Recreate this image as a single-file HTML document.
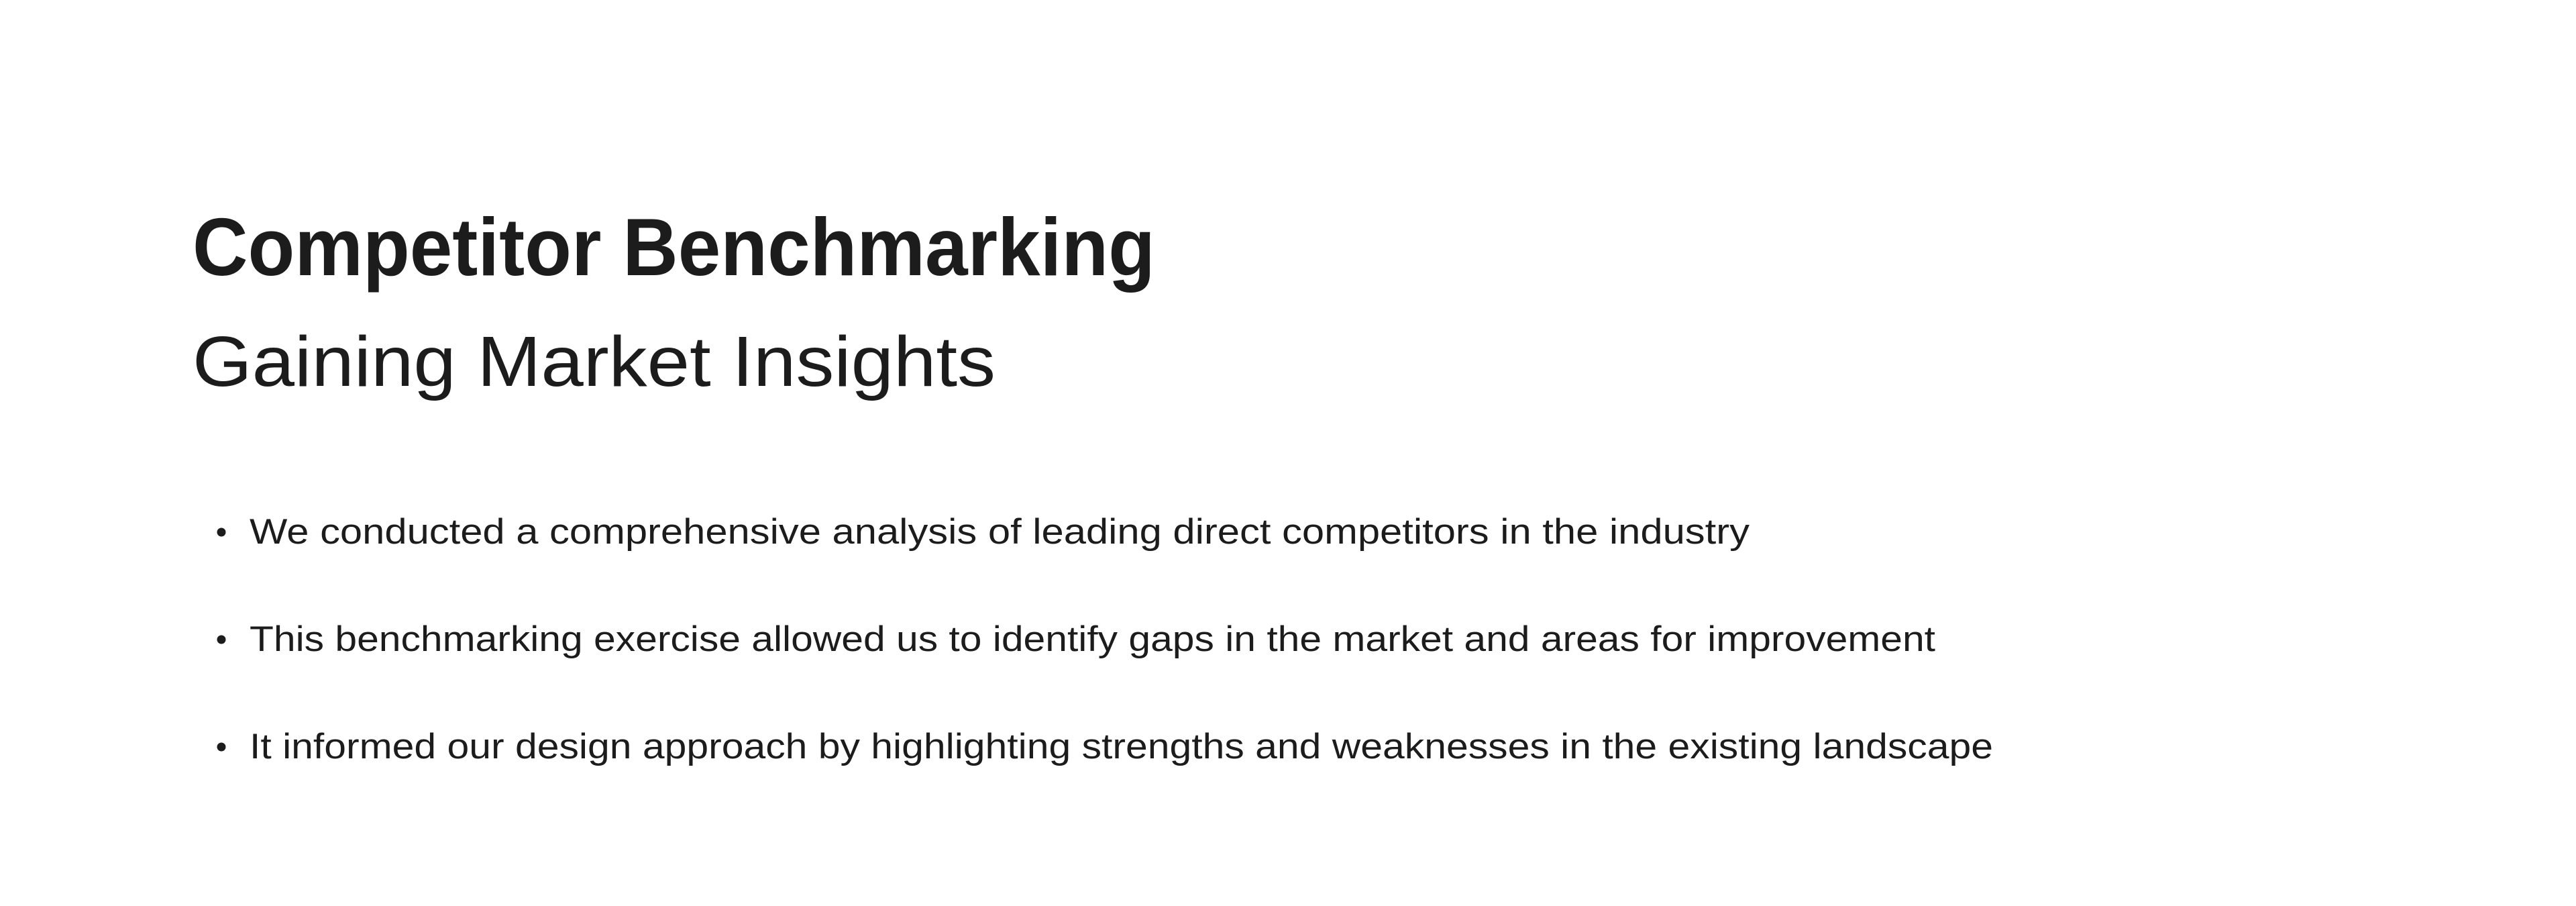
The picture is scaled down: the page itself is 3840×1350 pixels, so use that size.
<!DOCTYPE html>
<html><head><meta charset="utf-8"><style>
html,body{margin:0;padding:0;background:#fff;}
svg{display:block;}
text{font-family:"Liberation Sans",sans-serif;fill:#1c1c1c;}
</style></head><body>
<svg width="3840" height="1350" viewBox="0 0 3840 1350">
<rect width="3840" height="1350" fill="#fff"/>
<text x="287" y="410" font-size="122" font-weight="bold" textLength="1435" lengthAdjust="spacingAndGlyphs">Competitor Benchmarking</text>
<text x="287" y="575" font-size="106" textLength="1197" lengthAdjust="spacingAndGlyphs">Gaining Market Insights</text>
<circle cx="330" cy="793" r="6.5" fill="#1c1c1c"/>
<text x="372" y="810" font-size="53" textLength="2236" lengthAdjust="spacingAndGlyphs">We conducted a comprehensive analysis of leading direct competitors in the industry</text>
<circle cx="330" cy="953" r="6.5" fill="#1c1c1c"/>
<text x="372" y="970" font-size="53" textLength="2513" lengthAdjust="spacingAndGlyphs">This benchmarking exercise allowed us to identify gaps in the market and areas for improvement</text>
<circle cx="330" cy="1113" r="6.5" fill="#1c1c1c"/>
<text x="372" y="1130" font-size="53" textLength="2599" lengthAdjust="spacingAndGlyphs">It informed our design approach by highlighting strengths and weaknesses in the existing landscape</text>
</svg>
</body></html>
